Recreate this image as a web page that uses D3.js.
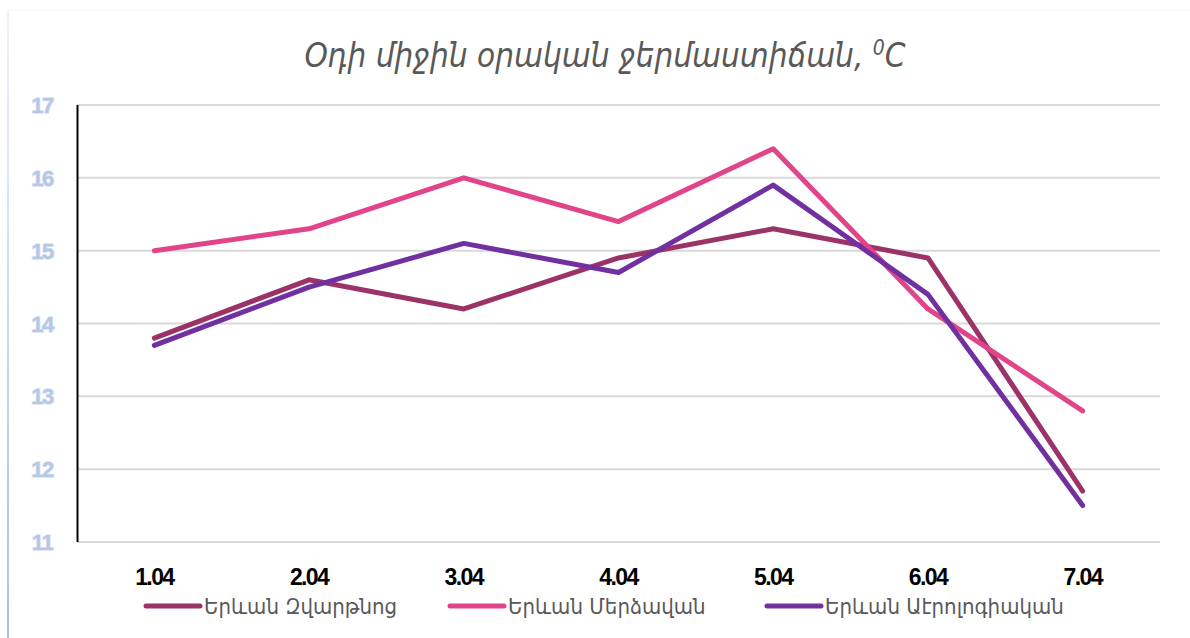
<!DOCTYPE html>
<meta charset="utf-8">
<title>Օդի միջին օրական ջերմաստիճան</title>
<style>
  body { margin: 0; background: #fff; }
  svg { display: block; }
</style>
<body>
<script src="https://cdn.jsdelivr.net/npm/d3@7"></script>
<script>
    // data
    var days = ["1.04", "2.04", "3.04", "4.04", "5.04", "6.04", "7.04"];
    var seriesNames = ["Երևան Զվարթնոց", "Երևան Մերձավան", "Երևան Աէրոլոգիական"];
    var zvartnots = [13.8, 14.6, 14.2, 14.9, 15.3, 14.9, 11.7];
    var merdzavan = [15.0, 15.3, 16.0, 15.4, 16.4, 14.2, 12.8];
    var aerolog   = [13.7, 14.5, 15.1, 14.7, 15.9, 14.4, 11.5];
    var yTicks = [11, 12, 13, 14, 15, 16, 17];
    var colors = ["#9c3368", "#e2448a", "#7030a0"];

    var width = 1190,
        height = 638;

    var svg = d3.select("body").append("svg")
        .attr("width", width)
        .attr("height", height);

    // faint frame
    var defs = svg.append("defs");
    var grad = defs.append("linearGradient")
        .attr("id", "leftEdge")
        .attr("x1", 0).attr("y1", 0).attr("x2", 0).attr("y2", 1);
    grad.append("stop").attr("offset", "0%").attr("stop-color", "#eef2f8");
    grad.append("stop").attr("offset", "100%").attr("stop-color", "#a9c0e0");

    svg.append("line")
        .attr("x1", 8).attr("x2", width).attr("y1", 10.5).attr("y2", 10.5)
        .style("stroke", "#f2f4f7");
    svg.append("rect")
        .attr("x", 7).attr("y", 10).attr("width", 2).attr("height", height - 10)
        .attr("fill", "url(#leftEdge)");

    var x = d3.scalePoint()
        .domain(days)
        .range([77, 1160])
        .padding(0.5);

    var y = d3.scaleLinear()
        .domain([11, 17])
        .range([542, 105]);

    // grid
    svg.append("g")
        .selectAll("line")
        .data(yTicks)
        .join("line")
        .attr("x1", 77)
        .attr("x2", 1160)
        .attr("y1", d => y(d))
        .attr("y2", d => y(d))
        .style("stroke", "#d9d9d9")
        .style("stroke-width", "2px");

    // left axis line
    svg.append("line")
        .attr("x1", 77.5).attr("x2", 77.5)
        .attr("y1", y(17)).attr("y2", y(11))
        .style("stroke", "#000")
        .style("stroke-width", "2px");

    // y labels
    svg.append("g")
        .selectAll("text")
        .data(yTicks)
        .join("text")
        .attr("x", 42)
        .attr("y", d => y(d) + 8)
        .attr("text-anchor", "middle")
        .style("font-family", "'Liberation Sans', Arial, sans-serif")
        .style("font-weight", "bold")
        .style("font-size", "22px")
        .style("letter-spacing", "-1.5px")
        .style("fill", "#b4c7e7")
        .style("paint-order", "stroke")
        .style("stroke", "#dde6f3")
        .style("stroke-width", "1.5px")
        .text(d => d);

    // x labels
    svg.append("g")
        .selectAll("text")
        .data(days)
        .join("text")
        .attr("x", d => x(d))
        .attr("y", 585)
        .attr("text-anchor", "middle")
        .style("font-family", "'Liberation Sans', Arial, sans-serif")
        .style("font-weight", "bold")
        .style("font-size", "23px")
        .style("letter-spacing", "-1.6px")
        .style("fill", "#000")
        .text(d => d);

    // lines
    var line = d3.line()
        .x((d, i) => x(days[i]))
        .y(d => y(d));

    svg.append("g")
        .selectAll("path")
        .data([zvartnots, merdzavan, aerolog])
        .join("path")
        .attr("d", line)
        .attr("fill", "none")
        .style("stroke", (d, i) => colors[i])
        .style("stroke-width", "5px")
        .style("stroke-linecap", "round")
        .style("stroke-linejoin", "round");

    // title
    var title = svg.append("text")
        .attr("x", 605)
        .attr("y", 67)
        .attr("text-anchor", "middle")
        .style("font-family", "'DejaVu Sans Condensed', 'DejaVu Sans', sans-serif")
        .style("font-style", "italic")
        .style("font-size", "33px")
        .style("fill", "#595959");
    title.append("tspan").text("Օդի միջին օրական ջերմաստիճան, ");
    title.append("tspan").attr("dy", -12).style("font-size", "21px").text("0");
    title.append("tspan").attr("dy", 12).text("C");

    // legend
    var legendX = [144, 448, 765];
    var legend = svg.append("g")
        .selectAll("g")
        .data(seriesNames)
        .join("g")
        .attr("transform", (d, i) => "translate(" + legendX[i] + ",606)");

    legend.append("line")
        .attr("x1", 2).attr("x2", 56)
        .attr("y1", 0).attr("y2", 0)
        .style("stroke", (d, i) => colors[i])
        .style("stroke-width", "5px")
        .style("stroke-linecap", "round");

    legend.append("text")
        .attr("x", 60)
        .attr("y", 8)
        .style("font-family", "'DejaVu Sans Condensed', 'DejaVu Sans', sans-serif")
        .style("font-size", "22px")
        .style("fill", "#595959")
        .text(d => d);
</script>
</body>
